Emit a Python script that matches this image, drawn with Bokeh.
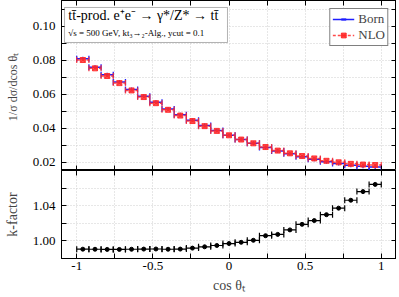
import math
from bokeh.plotting import figure
from bokeh.layouts import column
from bokeh.models import (Range1d, FixedTicker, LinearAxis, Legend, LegendItem,
                          BoxAnnotation, Label)
from bokeh.embed import file_html
from bokeh.resources import INLINE

# ---------------- data ----------------
bin_edges = [-1.00, -0.92, -0.84, -0.76, -0.68, -0.60, -0.52, -0.44, -0.36,
             -0.28, -0.20, -0.12, -0.04, 0.04, 0.12, 0.20, 0.28, 0.36, 0.44,
             0.52, 0.60, 0.68, 0.76, 0.84, 0.92, 1.00]

born = [0.0808, 0.0758, 0.0713, 0.0671, 0.0627, 0.0587, 0.0551, 0.0512,
        0.0478, 0.0445, 0.0414, 0.0385, 0.0358, 0.0333, 0.0310, 0.0286,
        0.0265, 0.0248, 0.0231, 0.0216, 0.0201, 0.0191, 0.0181, 0.0175,
        0.0171]

nlo = [0.0800, 0.0751, 0.0706, 0.0664, 0.0621, 0.0582, 0.0546, 0.0507,
       0.0473, 0.0441, 0.0411, 0.0383, 0.0357, 0.0332, 0.0310, 0.0288,
       0.0267, 0.0251, 0.0235, 0.0221, 0.0207, 0.0198, 0.0189, 0.0185,
       0.0182]

kfactor = [0.9906, 0.9905, 0.9903, 0.9903, 0.9905, 0.9907, 0.9908, 0.9905,
           0.9907, 0.9918, 0.9933, 0.9948, 0.9970, 0.9984, 1.0007, 1.0059,
           1.0074, 1.0125, 1.0188, 1.0231, 1.0298, 1.0372, 1.0462, 1.0560,
           1.0642]

x_ticks = [-1.0, -0.75, -0.5, -0.25, 0.0, 0.25, 0.5, 0.75, 1.0]
x_tick_labels = {-1.0: "-1", -0.75: "", -0.5: "-0.5", -0.25: "", 0.0: "0",
                 0.25: "", 0.5: "0.5", 0.75: "", 1.0: "1"}
top_y_ticks = [0.02, 0.03, 0.04, 0.05, 0.06, 0.07, 0.08, 0.09, 0.10, 0.11]
top_y_labels = {0.02: "0.02", 0.03: "", 0.04: "0.04", 0.05: "", 0.06: "0.06",
                0.07: "", 0.08: "0.08", 0.09: "", 0.10: "0.10", 0.11: ""}
k_y_ticks = [1.00, 1.02, 1.04, 1.06]
k_y_labels = {1.00: "1.00", 1.02: "", 1.04: "1.04", 1.06: ""}

lo = bin_edges[:-1]
hi = bin_edges[1:]
mid = [(a + b) / 2 for a, b in zip(lo, hi)]

FONT = "Liberation Serif"
BLUE = "#1f1fff"
RED = "#ff2a2a"


def style_axis(ax, ticker, overrides=None, show_labels=True):
    ax.ticker = ticker
    ax.major_tick_in = 5
    ax.major_tick_out = 0
    ax.minor_tick_in = 0
    ax.minor_tick_out = 0
    ax.axis_line_color = "black"
    ax.major_tick_line_color = "black"
    ax.major_label_text_font = FONT
    ax.axis_label_text_font = FONT
    ax.axis_label_text_font_style = "normal"
    if overrides is not None:
        ax.major_label_overrides = overrides
    if show_labels:
        ax.major_label_text_font_size = "13px"
        ax.major_label_text_color = "black"
    else:
        ax.major_label_text_font_size = "0px"
        ax.major_label_standoff = 0
        ax.major_label_text_alpha = 0


def make_fig(height, yr):
    p = figure(width=396, height=height, x_range=xr, y_range=yr,
               output_backend="svg", toolbar_location=None,
               min_border_left=61, min_border_right=0, min_border_top=0,
               min_border_bottom=0)
    p.outline_line_color = "black"
    p.background_fill_color = "white"
    p.xgrid.grid_line_color = "#cfcfcf"
    p.ygrid.grid_line_color = "#cfcfcf"
    p.xgrid.grid_line_dash = "1 2"
    p.ygrid.grid_line_dash = "1 2"
    return p


xr = Range1d(-1.1, 1.1)
xt = FixedTicker(ticks=x_ticks, minor_ticks=[])

# ---------------- top panel ----------------
p1 = make_fig(170, Range1d(0.015, 0.115))
yt1 = FixedTicker(ticks=top_y_ticks, minor_ticks=[])
p1.xgrid.ticker = xt
p1.ygrid.ticker = yt1
style_axis(p1.xaxis[0], xt, None, show_labels=False)
style_axis(p1.yaxis[0], yt1, top_y_labels, show_labels=True)
p1.yaxis[0].axis_label = "1/σ  dσ/dcos θₜ"
p1.yaxis[0].axis_label_text_font_size = "12px"
p1.yaxis[0].axis_label_standoff = 10
p1.yaxis[0].major_label_standoff = 6
ra1 = LinearAxis()
style_axis(ra1, yt1, None, show_labels=False)
p1.add_layout(ra1, "right")
aa1 = LinearAxis()
style_axis(aa1, xt, None, show_labels=False)
p1.add_layout(aa1, "above")

b_seg = p1.segment(x0=lo, x1=hi, y0=born, y1=born, line_color=BLUE, line_width=1.5)
b_cap1 = p1.scatter(x=lo, y=born, marker="dash", angle=math.pi / 2, size=6,
                    line_color=BLUE, line_width=1.3)
b_cap2 = p1.scatter(x=hi, y=born, marker="dash", angle=math.pi / 2, size=6,
                    line_color=BLUE, line_width=1.3)
b_pt = p1.scatter(x=mid, y=born, marker="dash", angle=math.pi / 2, size=4,
                  line_color=BLUE, line_width=1.3)

n_seg = p1.segment(x0=lo, x1=hi, y0=nlo, y1=nlo, line_color=RED, line_width=1.5,
                   line_dash="3 2", line_alpha=0.85)
n_cap1 = p1.scatter(x=lo, y=nlo, marker="dash", angle=math.pi / 2, size=6,
                    line_color=RED, line_width=1.3, line_alpha=0.85)
n_cap2 = p1.scatter(x=hi, y=nlo, marker="dash", angle=math.pi / 2, size=6,
                    line_color=RED, line_width=1.3, line_alpha=0.85)
n_pt = p1.scatter(x=mid, y=nlo, marker="square_x", size=5, fill_color=RED,
                  line_color=RED, fill_alpha=0.8, line_alpha=0.9)

legend = Legend(items=[LegendItem(label="Born", renderers=[b_seg, b_cap1, b_cap2, b_pt]),
                       LegendItem(label="NLO", renderers=[n_seg, n_cap1, n_cap2, n_pt])],
                location="top_right")
legend.label_text_font = FONT
legend.label_text_font_size = "13px"
legend.border_line_color = "black"
legend.border_line_width = 1
legend.margin = 8
legend.padding = 2
legend.spacing = 0
legend.glyph_height = 12
legend.glyph_width = 22
legend.label_height = 12
legend.label_standoff = 4
p1.add_layout(legend)

p1.add_layout(BoxAnnotation(left=-1.08, right=-0.01, bottom=0.0903, top=0.1109,
                            fill_color="white", fill_alpha=1.0,
                            line_color="black", line_width=1))
p1.add_layout(Label(x=-1.055, y=0.1063, text="tt̄-prod.  e⁺e⁻ → γ*/Z* → tt̄",
                    text_font=FONT, text_font_size="14px", text_baseline="middle",
                    text_color="black"))
p1.add_layout(Label(x=-1.055, y=0.0956, text="√s = 500 GeV,  kt₃→₂-Alg.,  ycut = 0.1",
                    text_font=FONT, text_font_size="9px", text_baseline="middle",
                    text_color="black"))

# ---------------- bottom panel ----------------
p2 = make_fig(125, Range1d(0.98, 1.08))
yt2 = FixedTicker(ticks=k_y_ticks, minor_ticks=[])
p2.xgrid.ticker = xt
p2.ygrid.ticker = yt2
style_axis(p2.xaxis[0], xt, x_tick_labels, show_labels=True)
p2.xaxis[0].axis_label = "cos θₜ"
p2.xaxis[0].axis_label_text_font_size = "14px"
p2.xaxis[0].major_label_standoff = 3
p2.xaxis[0].axis_label_standoff = 5
style_axis(p2.yaxis[0], yt2, k_y_labels, show_labels=True)
p2.yaxis[0].axis_label = "k-factor"
p2.yaxis[0].axis_label_text_font_size = "14px"
p2.yaxis[0].axis_label_standoff = 10
p2.yaxis[0].major_label_standoff = 6
ra2 = LinearAxis()
style_axis(ra2, yt2, None, show_labels=False)
p2.add_layout(ra2, "right")
aa2 = LinearAxis()
style_axis(aa2, xt, None, show_labels=False)
p2.add_layout(aa2, "above")

p2.segment(x0=lo, x1=hi, y0=kfactor, y1=kfactor, line_color="black", line_width=1.2)
p2.scatter(x=lo, y=kfactor, marker="dash", angle=math.pi / 2, size=6,
           line_color="black", line_width=1.2)
p2.scatter(x=hi, y=kfactor, marker="dash", angle=math.pi / 2, size=6,
           line_color="black", line_width=1.2)
p2.scatter(x=mid, y=kfactor, marker="circle", size=4, fill_color="black",
           line_color="black")

layout = column(p1, p2, spacing=0)
open("out.html", "w").write(file_html(layout, INLINE))
